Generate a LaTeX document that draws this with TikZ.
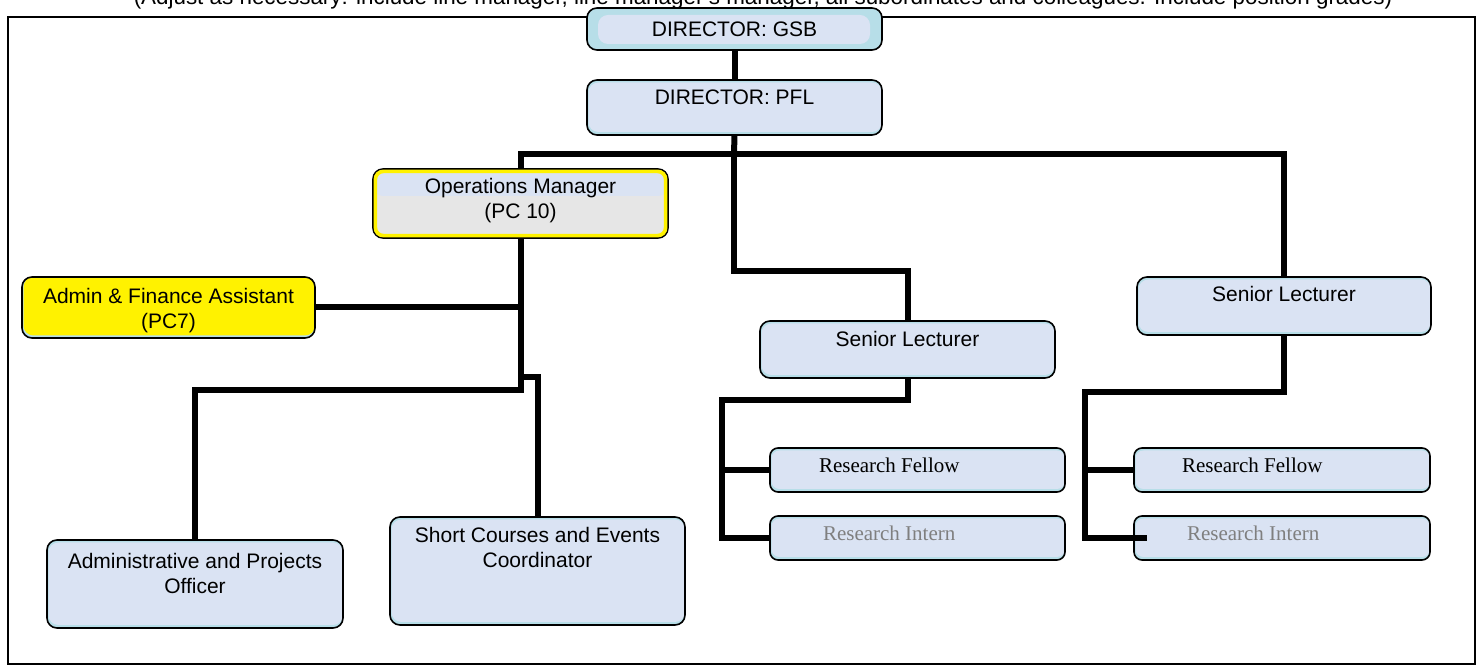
\documentclass[tikz,border=0pt]{standalone}
\usepackage{fontspec}
\setmainfont{Liberation Sans}
\newfontfamily\tms{Liberation Serif}
\usetikzlibrary{calc}
\definecolor{boxblue}{HTML}{DAE3F3}
\definecolor{tealx}{HTML}{B7DEE8}
\definecolor{opsgray}{HTML}{E6E6E6}
\definecolor{interngray}{HTML}{7F7F7F}
\newcommand\tb[4]{\parbox[c][#1][t]{#2}{\centering\vspace*{#3}#4\par}}
\newcommand\lb[5]{\parbox[c][#1][t]{#2}{\raggedright\vspace*{#3}\hspace*{#4}#5\par}}
\begin{document}
\begin{tikzpicture}[x=0.5pt,y=-0.5pt,
  font=\fontsize{10.5}{12.5}\selectfont,
  box/.style={draw=black, line width=0.8pt, rounded corners=5pt, fill=tealx,
    inner sep=0pt, outer sep=0pt, anchor=north west,
    path picture={\fill[boxblue] ($(path picture bounding box.north west)+(1.5,2.5)$) rectangle ($(path picture bounding box.south east)+(0,-3)$);}},
  gsbbox/.style={box,
    path picture={\fill[boxblue] ($(path picture bounding box.north west)+(11,7)$) rectangle ($(path picture bounding box.south east)+(-12,-6)$);}},
  opsbox/.style={draw=black, line width=0.8pt, rounded corners=5pt, fill=opsgray,
    inner sep=0pt, outer sep=0pt, anchor=north west,
    path picture={\fill[boxblue] (path picture bounding box.north west) rectangle ($(path picture bounding box.north east)+(0,27)$);}},
  yelbox/.style={box, fill=tealx,
    path picture={\fill[yellow] ($(path picture bounding box.north west)+(1.5,0)$) rectangle ($(path picture bounding box.south east)+(0,-2.5)$);}},
  rbox/.style={box, rounded corners=4pt},
  conn/.style={line width=3pt, line join=miter}]
\useasboundingbox (0,0) rectangle (1483,667);
% note line at top (partly cut off by the page edge, as in the reference)
\node[anchor=base, inner sep=0pt, font=\fontsize{11.2}{13}\selectfont] (note) at (763,5) {(Adjust as necessary: include line manager, line manager's manager, all subordinates and colleagues. Include position grades)};
% frame
\draw[line width=1pt] (8,17) rectangle (1475,664);
% boxes
\node[gsbbox] (gsb) at (587,8) {\tb{21pt}{147.5pt}{7pt}{DIRECTOR: GSB}};
\node[box] (pfl) at (587,80) {\tb{27.5pt}{147.5pt}{5pt}{DIRECTOR: PFL}};
\node[opsbox] (ops) at (373,169) {\tb{34.5pt}{147.5pt}{4.5pt}{Operations Manager\\(PC 10)}};
\draw[yellow, line width=1.8pt, rounded corners=4pt] ($(ops.north west)+(2.4,2.4)$) rectangle ($(ops.south east)+(-2.4,-2.4)$);
\node[yelbox] (afa) at (22,277) {\tb{30.5pt}{146.5pt}{5.5pt}{Admin \& Finance Assistant\\(PC7)}};
\node[box] (slm) at (760,321) {\tb{28.5pt}{147.5pt}{5pt}{Senior Lecturer}};
\node[box] (slr) at (1137,277) {\tb{29pt}{147pt}{4.5pt}{Senior Lecturer}};
\node[rbox] (rfm) at (770,448) {\lb{22pt}{147.5pt}{5pt}{24.5pt}{\tms Research Fellow}};
\node[rbox] (rim) at (770,516) {\lb{22pt}{147.5pt}{5pt}{26.5pt}{\tms\color{interngray}Research Intern}};
\node[rbox] (rfr) at (1134,448) {\lb{22pt}{148pt}{5pt}{24pt}{\tms Research Fellow}};
\node[rbox] (rir) at (1134,516) {\lb{22pt}{148pt}{5pt}{26.5pt}{\tms\color{interngray}Research Intern}};
\node[box] (apo) at (47,540) {\tb{44pt}{148pt}{6.5pt}{Administrative and Projects\\Officer}};
\node[box] (sce) at (390,517) {\tb{54pt}{147.5pt}{5pt}{Short Courses and Events\\Coordinator}};
% connectors
\coordinate (hub) at (734,154);
\coordinate (k1) at (734,271);
\coordinate (t1) at (520.5,390);
\coordinate (t2) at (520.5,377);
\coordinate (m1) at (722,400);
\coordinate (r1) at (1085,392);
\draw[conn] (gsb.south) -- (pfl.north);
\draw[conn] (pfl.south) -- (hub);
\draw[conn] (ops.north) |- (hub) -| (slr.north);
\draw[conn] (hub) -- (k1) -| (slm.north);
\draw[conn] (ops.south) -- (t1) -| (apo.north);
\draw[conn] (afa.east) -- (ops.south |- afa.east);
\draw[conn] (t2) -| (sce.north);
\draw[conn] (slm.south) |- (m1) |- (rim.west);
\draw[conn] (m1 |- rfm.west) -- (rfm.west);
\draw[conn] (slr.south) |- (r1) |- ($(rir.west)+(13,0)$);
\draw[conn] (r1 |- rfr.west) -- (rfr.west);
\end{tikzpicture}
\end{document}
